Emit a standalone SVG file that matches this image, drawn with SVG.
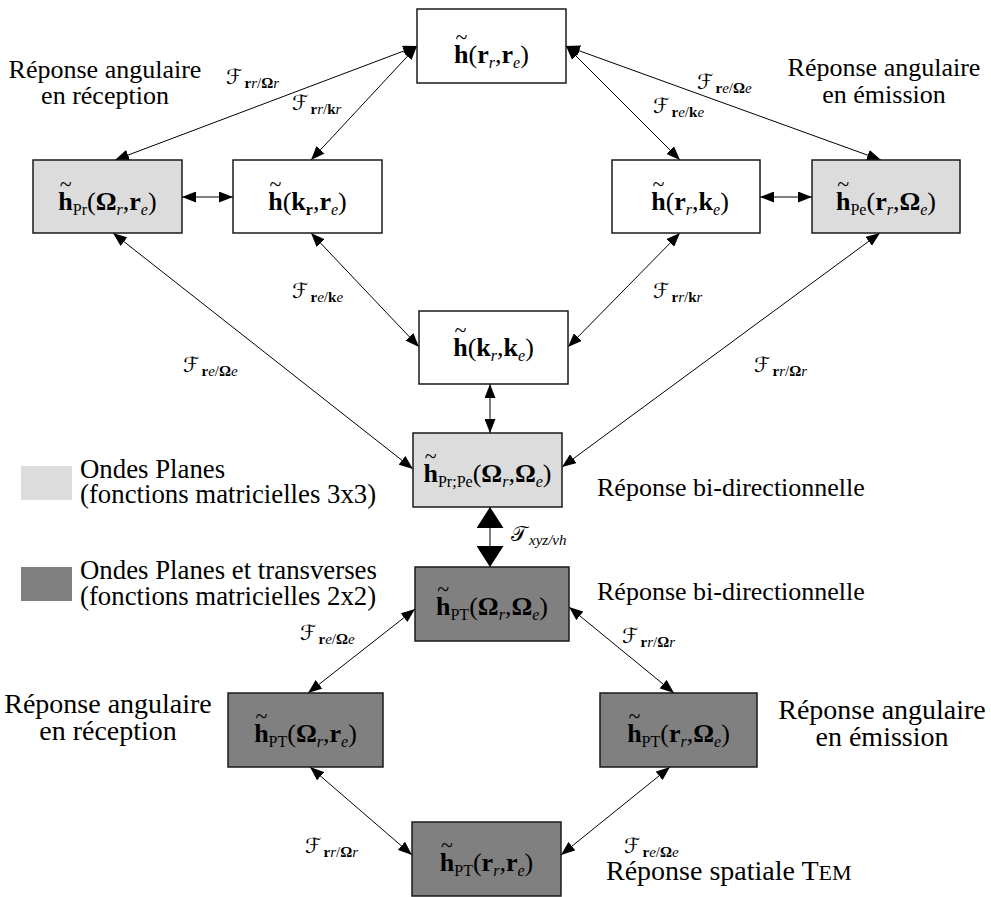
<svg xmlns="http://www.w3.org/2000/svg" width="991" height="897" viewBox="0 0 991 897">
<defs>
<style>
.bx{stroke:#1a1a1a;stroke-width:1.5}
.w{fill:#fff}.l{fill:#dcdcdc}.d{fill:#808080}
.n{font-family:"Liberation Serif",serif;font-size:26px;fill:#000}
.b{font-weight:bold}
.i{font-style:italic}
.s{font-size:16px}
.tl{font-size:22px;font-weight:normal}
.t{font-family:"Liberation Serif",serif;font-size:26px;fill:#000}
.tg{font-family:"Liberation Serif",serif;font-size:26.8px;fill:#000}
.t28{font-family:"Liberation Serif",serif;font-size:28px;fill:#000}
.f{font-family:"Liberation Serif","DejaVu Serif","DejaVu Sans",serif;font-size:21px;fill:#000}
.fs{font-family:"Liberation Serif",serif;font-size:15px}
.c{stroke:#000;stroke-width:1;fill:none;marker-start:url(#a);marker-end:url(#a)}
.k{stroke:#000;stroke-width:1;fill:none;marker-start:url(#big);marker-end:url(#big)}
</style>
<marker id="a" viewBox="0 0 14 11" refX="14" refY="5.5" markerWidth="14" markerHeight="11" markerUnits="userSpaceOnUse" orient="auto-start-reverse"><path d="M0,0 L14,5.5 L0,11 z" fill="#000"/></marker>
<marker id="big" viewBox="0 0 21 27" refX="21" refY="13.5" markerWidth="21" markerHeight="27" markerUnits="userSpaceOnUse" orient="auto-start-reverse"><path d="M0,0 L21,13.5 L0,27 z" fill="#000"/></marker>
</defs>
<rect width="991" height="897" fill="#fff"/>

<g id="connectors">
<line class="c" x1="115" y1="160" x2="417" y2="46"/>
<line class="c" x1="311" y1="160" x2="417" y2="46"/>
<line class="c" x1="566" y1="46" x2="680" y2="160"/>
<line class="c" x1="566" y1="46" x2="881" y2="160"/>
<line class="c" x1="182" y1="197" x2="233" y2="197"/>
<line class="c" x1="760" y1="197" x2="812" y2="197"/>
<line class="c" x1="311" y1="233" x2="419" y2="347"/>
<line class="c" x1="680" y1="233" x2="568" y2="347"/>
<line class="c" x1="113" y1="233" x2="413" y2="469"/>
<line class="c" x1="880" y1="233" x2="562" y2="467"/>
<line class="c" x1="490" y1="384" x2="490" y2="433"/>
<line class="k" x1="490" y1="507" x2="490" y2="567"/>
<line class="c" x1="415" y1="609" x2="308" y2="693"/>
<line class="c" x1="569" y1="607" x2="674" y2="693"/>
<line class="c" x1="310" y1="767" x2="412" y2="855"/>
<line class="c" x1="670" y1="767" x2="561" y2="855"/>
</g>

<g id="labels">
<text class="f" x="226" y="84">ℱ<tspan class="fs" dx="2" dy="4"><tspan class="b">r</tspan><tspan class="i">r</tspan>/<tspan class="b">Ω</tspan><tspan class="i">r</tspan></tspan></text>
<text class="f" x="292" y="110">ℱ<tspan class="fs" dx="2" dy="4"><tspan class="b">r</tspan><tspan class="i">r</tspan>/<tspan class="b">k</tspan><tspan class="i">r</tspan></tspan></text>
<text class="f" x="697" y="89">ℱ<tspan class="fs" dx="2" dy="4"><tspan class="b">r</tspan><tspan class="i">e</tspan>/<tspan class="b">Ω</tspan><tspan class="i">e</tspan></tspan></text>
<text class="f" x="653" y="113">ℱ<tspan class="fs" dx="2" dy="4"><tspan class="b">r</tspan><tspan class="i">e</tspan>/<tspan class="b">k</tspan><tspan class="i">e</tspan></tspan></text>
<text class="f" x="292" y="298">ℱ<tspan class="fs" dx="2" dy="4"><tspan class="b">r</tspan><tspan class="i">e</tspan>/<tspan class="b">k</tspan><tspan class="i">e</tspan></tspan></text>
<text class="f" x="653" y="298">ℱ<tspan class="fs" dx="2" dy="4"><tspan class="b">r</tspan><tspan class="i">r</tspan>/<tspan class="b">k</tspan><tspan class="i">r</tspan></tspan></text>
<text class="f" x="183" y="372">ℱ<tspan class="fs" dx="2" dy="4"><tspan class="b">r</tspan><tspan class="i">e</tspan>/<tspan class="b">Ω</tspan><tspan class="i">e</tspan></tspan></text>
<text class="f" x="754" y="372">ℱ<tspan class="fs" dx="2" dy="4"><tspan class="b">r</tspan><tspan class="i">r</tspan>/<tspan class="b">Ω</tspan><tspan class="i">r</tspan></tspan></text>
<text class="f" x="511" y="541">𝒯<tspan class="fs i" dx="2" dy="4">xyz/vh</tspan></text>
<text class="f" x="300" y="640">ℱ<tspan class="fs" dx="2" dy="4"><tspan class="b">r</tspan><tspan class="i">e</tspan>/<tspan class="b">Ω</tspan><tspan class="i">e</tspan></tspan></text>
<text class="f" x="622" y="643">ℱ<tspan class="fs" dx="2" dy="4"><tspan class="b">r</tspan><tspan class="i">r</tspan>/<tspan class="b">Ω</tspan><tspan class="i">r</tspan></tspan></text>
<text class="f" x="305" y="853">ℱ<tspan class="fs" dx="2" dy="4"><tspan class="b">r</tspan><tspan class="i">r</tspan>/<tspan class="b">Ω</tspan><tspan class="i">r</tspan></tspan></text>
<text class="f" x="624" y="853">ℱ<tspan class="fs" dx="2" dy="4"><tspan class="b">r</tspan><tspan class="i">e</tspan>/<tspan class="b">Ω</tspan><tspan class="i">e</tspan></tspan></text>
</g>

<g id="captions">
<text class="t" x="105" y="78" text-anchor="middle">Réponse angulaire</text>
<text class="t" x="105" y="104" text-anchor="middle">en réception</text>
<text class="t" x="884" y="76" text-anchor="middle">Réponse angulaire</text>
<text class="t" x="884" y="103" text-anchor="middle">en émission</text>
<text class="t" x="597" y="496">Réponse bi-directionnelle</text>
<text class="t" x="597" y="600">Réponse bi-directionnelle</text>
<text class="t28" x="108" y="713" text-anchor="middle">Réponse angulaire</text>
<text class="t28" x="108" y="740" text-anchor="middle">en réception</text>
<text class="t28" x="882" y="719" text-anchor="middle">Réponse angulaire</text>
<text class="t28" x="882" y="746" text-anchor="middle">en émission</text>
<text class="t28" x="606" y="880">Réponse spatiale T<tspan font-size="22">EM</tspan></text>
</g>

<g id="legend">
<rect x="21" y="466" width="51" height="34" fill="#dcdcdc"/>
<text class="tg" x="80" y="478">Ondes Planes</text>
<text class="tg" x="80" y="503">(fonctions matricielles 3x3)</text>
<rect x="21" y="567" width="51" height="34" fill="#808080"/>
<text class="tg" x="80" y="579">Ondes Planes et transverses</text>
<text class="tg" x="80" y="605">(fonctions matricielles 2x2)</text>
</g>

<g id="n-h-rr-re">
<rect class="bx w" x="417" y="9" width="149" height="74"/>
<text class="n" x="491.5" y="63" text-anchor="middle"><tspan class="b">h</tspan><tspan class="tl" dx="-13.18" dy="-19">~</tspan><tspan dx="1.28" dy="19">(</tspan><tspan class="b">r</tspan><tspan class="s i" dy="5">r</tspan><tspan dy="-5">,</tspan><tspan class="b">r</tspan><tspan class="s i" dy="5">e</tspan><tspan dy="-5">)</tspan></text>
</g>

<g id="n-hPr-Or-re">
<rect class="bx l" x="33" y="160" width="149" height="73"/>
<text class="n" x="107.5" y="210" text-anchor="middle"><tspan class="b">h</tspan><tspan class="tl" dx="-13.18" dy="-19">~</tspan><tspan class="s" dx="1.28" dy="24">Pr</tspan><tspan dy="-5">(</tspan><tspan class="b">Ω</tspan><tspan class="s i" dy="5">r</tspan><tspan dy="-5">,</tspan><tspan class="b">r</tspan><tspan class="s i" dy="5">e</tspan><tspan dy="-5">)</tspan></text>
</g>

<g id="n-h-kr-re">
<rect class="bx w" x="233" y="160" width="149" height="73"/>
<text class="n" x="307.5" y="210" text-anchor="middle"><tspan class="b">h</tspan><tspan class="tl" dx="-13.18" dy="-19">~</tspan><tspan dx="1.28" dy="19">(</tspan><tspan class="b">k</tspan><tspan class="s b" dy="5">r</tspan><tspan dy="-5">,</tspan><tspan class="b">r</tspan><tspan class="s i" dy="5">e</tspan><tspan dy="-5">)</tspan></text>
</g>

<g id="n-h-rr-ke">
<rect class="bx w" x="612" y="160" width="148" height="73"/>
<text class="n" x="690" y="210" text-anchor="middle"><tspan class="b">h</tspan><tspan class="tl" dx="-13.18" dy="-19">~</tspan><tspan dx="1.28" dy="19">(</tspan><tspan class="b">r</tspan><tspan class="s i" dy="5">r</tspan><tspan dy="-5">,</tspan><tspan class="b">k</tspan><tspan class="s i" dy="5">e</tspan><tspan dy="-5">)</tspan></text>
</g>

<g id="n-hPe-rr-Oe">
<rect class="bx l" x="812" y="160" width="148" height="73"/>
<text class="n" x="886" y="210" text-anchor="middle"><tspan class="b">h</tspan><tspan class="tl" dx="-13.18" dy="-19">~</tspan><tspan class="s" dx="1.28" dy="24">Pe</tspan><tspan dy="-5">(</tspan><tspan class="b">r</tspan><tspan class="s i" dy="5">r</tspan><tspan dy="-5">,</tspan><tspan class="b">Ω</tspan><tspan class="s i" dy="5">e</tspan><tspan dy="-5">)</tspan></text>
</g>

<g id="n-h-kr-ke">
<rect class="bx w" x="419" y="311" width="149" height="73"/>
<text class="n" x="493.5" y="356" text-anchor="middle"><tspan class="b">h</tspan><tspan class="tl" dx="-13.18" dy="-19">~</tspan><tspan dx="1.28" dy="19">(</tspan><tspan class="b">k</tspan><tspan class="s i" dy="5">r</tspan><tspan dy="-5">,</tspan><tspan class="b">k</tspan><tspan class="s i" dy="5">e</tspan><tspan dy="-5">)</tspan></text>
</g>

<g id="n-hPrPe-Or-Oe">
<rect class="bx l" x="413" y="433" width="149" height="74"/>
<text class="n" x="487.5" y="482" text-anchor="middle"><tspan class="b">h</tspan><tspan class="tl" dx="-13.18" dy="-19">~</tspan><tspan class="s" dx="1.28" dy="24">Pr;Pe</tspan><tspan dy="-5">(</tspan><tspan class="b">Ω</tspan><tspan class="s i" dy="5">r</tspan><tspan dy="-5">,</tspan><tspan class="b">Ω</tspan><tspan class="s i" dy="5">e</tspan><tspan dy="-5">)</tspan></text>
</g>

<g id="n-hPT-Or-Oe">
<rect class="bx d" x="415" y="567" width="154" height="74"/>
<text class="n" x="492" y="615" text-anchor="middle"><tspan class="b">h</tspan><tspan class="tl" dx="-13.18" dy="-19">~</tspan><tspan class="s" dx="1.28" dy="24">PT</tspan><tspan dy="-5">(</tspan><tspan class="b">Ω</tspan><tspan class="s i" dy="5">r</tspan><tspan dy="-5">,</tspan><tspan class="b">Ω</tspan><tspan class="s i" dy="5">e</tspan><tspan dy="-5">)</tspan></text>
</g>

<g id="n-hPT-Or-re">
<rect class="bx d" x="228" y="693" width="155" height="74"/>
<text class="n" x="305.5" y="742" text-anchor="middle"><tspan class="b">h</tspan><tspan class="tl" dx="-13.18" dy="-19">~</tspan><tspan class="s" dx="1.28" dy="24">PT</tspan><tspan dy="-5">(</tspan><tspan class="b">Ω</tspan><tspan class="s i" dy="5">r</tspan><tspan dy="-5">,</tspan><tspan class="b">r</tspan><tspan class="s i" dy="5">e</tspan><tspan dy="-5">)</tspan></text>
</g>

<g id="n-hPT-rr-Oe">
<rect class="bx d" x="600" y="693" width="157" height="74"/>
<text class="n" x="678.5" y="742" text-anchor="middle"><tspan class="b">h</tspan><tspan class="tl" dx="-13.18" dy="-19">~</tspan><tspan class="s" dx="1.28" dy="24">PT</tspan><tspan dy="-5">(</tspan><tspan class="b">r</tspan><tspan class="s i" dy="5">r</tspan><tspan dy="-5">,</tspan><tspan class="b">Ω</tspan><tspan class="s i" dy="5">e</tspan><tspan dy="-5">)</tspan></text>
</g>

<g id="n-hPT-rr-re">
<rect class="bx d" x="412" y="822" width="149" height="74"/>
<text class="n" x="486.5" y="871" text-anchor="middle"><tspan class="b">h</tspan><tspan class="tl" dx="-13.18" dy="-19">~</tspan><tspan class="s" dx="1.28" dy="24">PT</tspan><tspan dy="-5">(</tspan><tspan class="b">r</tspan><tspan class="s i" dy="5">r</tspan><tspan dy="-5">,</tspan><tspan class="b">r</tspan><tspan class="s i" dy="5">e</tspan><tspan dy="-5">)</tspan></text>
</g>
</svg>
